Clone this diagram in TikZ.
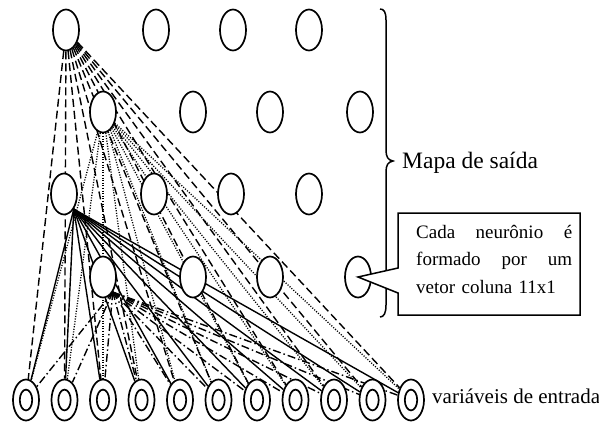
\documentclass[tikz,border=0pt]{standalone}
\usepackage{fontspec}
\setmainfont{Liberation Serif}
\usetikzlibrary{shapes.geometric}
\pgfdeclarelayer{bg}
\pgfsetlayers{bg,main}
\begin{document}
\begin{tikzpicture}[x=1pt,y=-1pt,
  neuron/.style={ellipse, draw, line width=1.7pt, fill=white, minimum width=26pt, minimum height=41pt, inner sep=0pt},
  inp/.style={neuron, path picture={\draw[line width=1.7pt] (path picture bounding box.center) ellipse [x radius=6.2pt, y radius=10.4pt];}},
  cdash/.style={line width=1.4pt, dash pattern=on 8pt off 4pt},
  cdot/.style={line width=1.3pt, dash pattern=on 1.1pt off 1.5pt},
  csolid/.style={line width=1.4pt},
  cdashdot/.style={line width=1.4pt, dash pattern=on 8pt off 3pt on 1.5pt off 3pt},
  lbl/.style={inner sep=0pt, anchor=base west}
]
\useasboundingbox (0,0) rectangle (599,421);

% output map
\node[neuron] (o11) at (66,30) {};
\node[neuron] (o12) at (156,30) {};
\node[neuron] (o13) at (233,30) {};
\node[neuron] (o14) at (309,30) {};
\node[neuron] (o21) at (103,112) {};
\node[neuron] (o22) at (193,112) {};
\node[neuron] (o23) at (270,112) {};
\node[neuron] (o24) at (360,112) {};
\node[neuron] (o31) at (64,194) {};
\node[neuron] (o32) at (154,194) {};
\node[neuron] (o33) at (231,194) {};
\node[neuron] (o34) at (309,194) {};
\node[neuron] (o41) at (103,277) {};
\node[neuron] (o42) at (193,277) {};
\node[neuron] (o43) at (270,277) {};
\node[neuron] (o44) at (358,277) {};

% inputs
\foreach \k in {1,...,11}
  \node[inp] (i\k) at ({26+38.5*(\k-1)},400) {};

% connections
\begin{pgfonlayer}{bg}
\foreach \k in {1,...,11} {
  \draw[cdash] (o11) -- (i\k);
  \draw[cdot] (o21) -- (i\k);
  \draw[csolid] (o31.south east) -- (i\k);
  \draw[cdashdot] (o41.south east) -- (i\k);
}
\end{pgfonlayer}

% brace
\coordinate (tip) at (393,161);
\draw[line width=1.5pt] (380,9) .. controls (384,9) and (386,12) .. (386,20)
  -- (386,150) .. controls (386,157) and (388,160) .. (tip)
  .. controls (388,162) and (386,165) .. (386,172)
  -- (386,305) .. controls (386,313) and (384,317) .. (380,317);
\node[lbl, font=\fontsize{23.5}{27}\selectfont] (mapa) at (402,168) {Mapa de saída};

% callout
\draw[line width=1.5pt, fill=white] (398,213) -| (580,315) -| (398,293) -- (o44.center) -- (398,268) -- cycle;
\node[anchor=north west, inner sep=0pt, text width=156pt, align=left,
      font=\fontsize{19}{27.5}\selectfont] (txt) at (416,225)
  {\makebox[156pt]{Cada\hfill neurônio\hfill é}\\
   \makebox[156pt]{formado\hfill por\hfill um}\\
   vetor coluna 11x1};

\node[lbl, font=\fontsize{21}{24}\selectfont] (entrada) at (432,403) {variáveis de entrada};
\end{tikzpicture}
\end{document}
